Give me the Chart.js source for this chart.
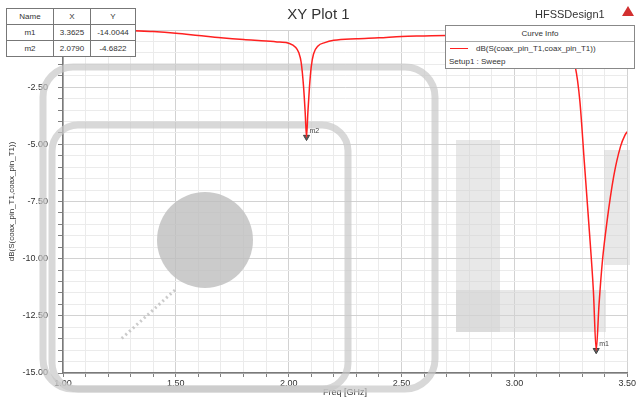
<!DOCTYPE html>
<html>
<head>
<meta charset="utf-8">
<script src="https://cdn.jsdelivr.net/npm/chart.js@4/dist/chart.umd.min.js"></script>
<style>
body { margin: 0; background: #fff; font-family: "Liberation Sans", Arial, sans-serif; }
#wrap { position: relative; width: 637px; height: 399px; overflow: hidden; }
#title { position: absolute; left: 0; width: 637px; top: 5px; text-align: center; font-size: 15px; color: #333; }
#design { position: absolute; left: 535px; top: 8px; font-size: 11px; color: #333; }
#icon { position: absolute; left: 622px; top: 6px; width: 0; height: 0; border-left: 6px solid transparent; border-right: 6px solid transparent; border-bottom: 10px solid #d23030; }
#markers { position: absolute; left: 6px; top: 8px; border-collapse: collapse; background: #fff; font-size: 8px; color: #333; }
#markers td { border: 1px solid #777; height: 15px; padding: 0 2px; text-align: center; }
#info { position: absolute; left: 445px; top: 25px; width: 188px; height: 42px; border: 1px solid #888; background: #fff; font-size: 8px; color: #333; }
#info .hd { text-align: center; height: 15px; line-height: 15px; border-bottom: 1px solid #aaa; }
#info .row { height: 13px; line-height: 13px; padding-left: 4px; }
#info .sw { display: inline-block; width: 18px; height: 0; border-top: 1.5px solid #ff2020; vertical-align: middle; margin-right: 8px; }
</style>
</head>
<body>
<div id="wrap">
<canvas id="plot" width="637" height="399"></canvas>
<div id="title">XY Plot 1</div>
<div id="design">HFSSDesign1</div>
<div id="icon"></div>
<table id="markers">
<tr><td style="width:42px">Name</td><td style="width:32px">X</td><td style="width:40px">Y</td></tr>
<tr><td>m1</td><td>3.3625</td><td>-14.0044</td></tr>
<tr><td>m2</td><td>2.0790</td><td>-4.6822</td></tr>
</table>
<div id="info">
<div class="hd">Curve Info</div>
<div class="row"><span class="sw"></span>dB(S(coax_pin_T1,coax_pin_T1))</div>
<div class="row" style="padding-left:3px">Setup1 : Sweep</div>
</div>
</div>
<script>
// 🔹 DATA
const freq = [1.00, 1.10, 1.20, 1.30, 1.40, 1.50, 1.60, 1.70, 1.80, 1.90, 1.96, 2.00, 2.03, 2.045, 2.055, 2.066, 2.073, 2.079,
    2.085, 2.092, 2.10, 2.11, 2.13, 2.16, 2.20, 2.30, 2.40, 2.50, 2.60, 2.70, 2.80, 2.90, 3.00, 3.10, 3.15, 3.20, 3.24, 3.27,
    3.29, 3.31, 3.33, 3.35, 3.3625, 3.375, 3.39, 3.41, 3.44, 3.47, 3.49, 3.50];
const dbS11 = [-0.03, -0.03, -0.03, -0.03, -0.07, -0.14, -0.24, -0.34, -0.42, -0.48, -0.53, -0.58, -0.75, -1.0, -1.4, -2.5, -3.6, -4.68,
    -3.6, -2.5, -1.6, -1.05, -0.7, -0.55, -0.45, -0.38, -0.34, -0.28, -0.26, -0.24, -0.23, -0.23, -0.25, -0.32, -0.42, -0.6, -1.0, -1.62,
    -3.1, -5.8, -8.5, -11.4, -14.0, -12.0, -10.1, -8.4, -6.4, -5.1, -4.6, -4.45];

const markerNames = ["m1", "m2"];
const markerX = [3.3625, 2.0790];
const markerY = [-14.0044, -4.6822];

const xTicksMajor = 0.5;
const yTicksMajor = 2.5;

// 🔹 WATERMARK (background decoration, not data)
const watermark = {
    id: 'watermark',
    beforeDatasetsDraw(chart) {
        const c = chart.ctx;
        c.save();
        c.strokeStyle = 'rgba(200,200,200,0.7)';
        c.lineWidth = 7;
        c.beginPath(); c.roundRect(43, 67, 392, 322, 30); c.stroke();
        c.beginPath(); c.roundRect(52, 125, 296, 264, 26); c.stroke();
        c.fillStyle = 'rgba(190,190,190,0.8)';
        c.beginPath(); c.arc(205, 240, 48, 0, Math.PI * 2); c.fill();
        c.strokeStyle = 'rgba(190,190,190,0.8)';
        c.setLineDash([2, 3]); c.lineWidth = 3;
        c.beginPath(); c.moveTo(175, 290); c.lineTo(120, 340); c.stroke();
        c.setLineDash([]);
        c.fillStyle = 'rgba(210,210,210,0.5)';
        c.fillRect(456, 140, 44, 192);
        c.fillRect(456, 290, 150, 42);
        c.fillRect(604, 150, 26, 115);
        c.restore();
    }
};

// 🔹 MARKER LABELS
const markerLabels = {
    id: 'markerLabels',
    afterDatasetsDraw(chart) {
        const c = chart.ctx;
        const meta = chart.getDatasetMeta(1);
        c.save();
        c.font = '7px "Liberation Sans", Arial';
        c.fillStyle = '#444';
        meta.data.forEach((p, i) => {
            c.fillText(markerNames[i], p.x + 3, p.y - 4);
        });
        c.restore();
    }
};

function isMajor(v, step) {
    return Math.abs(v / step - Math.round(v / step)) < 1e-6;
}

const ctx = document.getElementById('plot').getContext('2d');
new Chart(ctx, {
    type: 'line',
    data: {
        datasets: [{
            data: freq.map((f, i) => ({ x: f, y: dbS11[i] })),
            borderColor: '#ff2020',
            borderWidth: 1.5,
            pointRadius: 0,
            cubicInterpolationMode: 'monotone',
            fill: false
        }, {
            data: markerX.map((x, i) => ({ x: x, y: markerY[i] })),
            showLine: false,
            pointStyle: 'triangle',
            rotation: 180,
            pointRadius: 3.5,
            backgroundColor: '#606060',
            borderColor: '#404040',
            borderWidth: 1
        }]
    },
    options: {
        responsive: false,
        animation: false,
        layout: { autoPadding: false, padding: { top: 30, right: 8, left: 0, bottom: 0 } },
        plugins: { legend: { display: false }, tooltip: { enabled: false } },
        scales: {
            x: {
                type: 'linear',
                min: 1, max: 3.5,
                afterFit: s => { s.height = 26; },
                border: { color: '#7a7a7a', width: 1.5 },
                grid: {
                    color: c => isMajor(c.tick.value, xTicksMajor) ? '#d2d2d2' : '#ebebeb',
                    tickColor: '#808080',
                    tickLength: 4
                },
                ticks: {
                    stepSize: 0.1,
                    autoSkip: false,
                    maxRotation: 0,
                    padding: 1,
                    color: '#333',
                    font: { family: '"Liberation Sans", Arial', size: 9 },
                    callback: v => isMajor(v, xTicksMajor) ? v.toFixed(2) : ''
                },
                title: {
                    display: true, text: 'Freq [GHz]', color: '#333',
                    padding: { top: 0, bottom: 1 },
                    font: { family: '"Liberation Sans", Arial', size: 9 }
                }
            },
            y: {
                min: -15, max: 0,
                afterFit: s => { s.width = 63; },
                border: { color: '#7a7a7a', width: 1.5 },
                grid: {
                    color: c => isMajor(c.tick.value, yTicksMajor) ? '#d2d2d2' : '#ebebeb',
                    tickColor: '#808080',
                    tickLength: 5
                },
                ticks: {
                    stepSize: 0.5,
                    autoSkip: false,
                    padding: 10,
                    color: '#333',
                    font: { family: '"Liberation Sans", Arial', size: 9 },
                    callback: v => isMajor(v, yTicksMajor) ? v.toFixed(2) : ''
                },
                title: {
                    display: true, text: 'dB(S(coax_pin_T1,coax_pin_T1))', color: '#333',
                    padding: { top: 7, bottom: 0 },
                    font: { family: '"Liberation Sans", Arial', size: 8 }
                }
            }
        }
    },
    plugins: [watermark, markerLabels]
});
</script>
</body>
</html>
